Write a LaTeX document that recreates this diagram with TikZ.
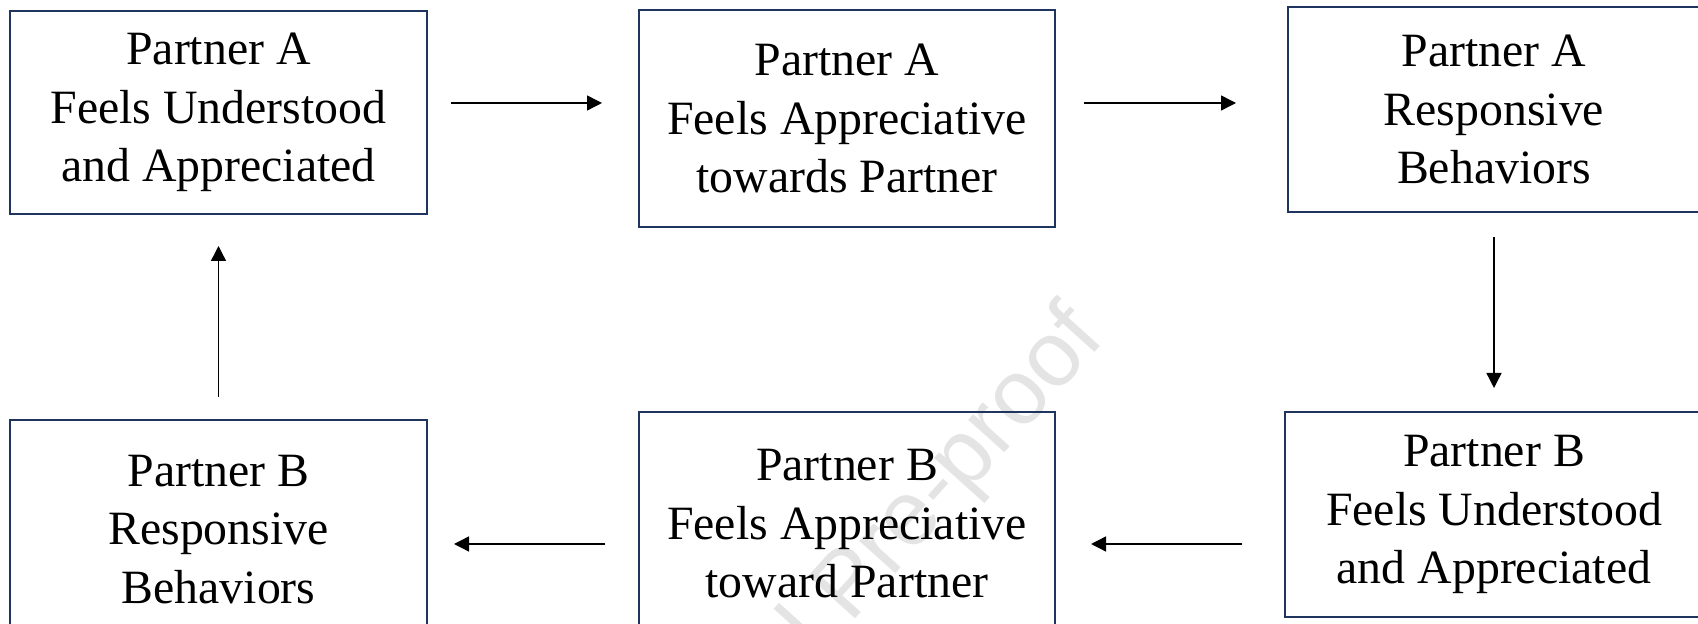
\documentclass[tikz,border=0pt]{standalone}
\usepackage{fontspec}
\setmainfont{Liberation Serif}
\newfontfamily\wmfont{Liberation Sans}
\usetikzlibrary{arrows.meta}
\definecolor{boxnavy}{HTML}{1F3560}
\definecolor{wmgray}{HTML}{E4E4E4}
\tikzset{
  stagebox/.style={draw=boxnavy, line width=1pt, align=center, inner sep=0pt,
    font=\fontsize{23.9}{29.25}\selectfont},
  flow/.style={line width=0.7pt, -{Triangle[length=7.5pt, width=7.5pt]}}
}
\begin{document}
\begin{tikzpicture}[x=0.5pt, y=-0.5pt]
  \clip (0,0) rectangle (1698,624);

  % Watermark
  \node[rotate=48, anchor=east, text=wmgray, font=\wmfont\fontsize{46}{46}\selectfont]
    (wm) at (1094,318) {Journal Pre-proof};

  % Partner A row
  \node[stagebox, minimum width=208.5pt, minimum height=101.5pt] (aund) at (218.5,112.5)
    {Partner A\\Feels Understood\\and Appreciated};
  \node[stagebox, minimum width=208pt, minimum height=108.5pt] (aapp) at (847,118.5)
    {Partner A\\Feels Appreciative\\towards Partner};
  \node[stagebox, minimum width=206pt, minimum height=102.5pt] (aresp) at (1494,109.5)
    {Partner A\\Responsive\\Behaviors};

  % Partner B row
  \node[stagebox, minimum width=209pt, minimum height=102.5pt] (bund) at (1494,514.5)
    {Partner B\\Feels Understood\\and Appreciated};
  \node[stagebox, minimum width=208pt, minimum height=112pt] (bapp) at (847,524)
    {Partner B\\Feels Appreciative\\toward Partner};
  \node[stagebox, minimum width=208.5pt, minimum height=109.5pt] (bresp) at (218.5,529.5)
    {Partner B\\Responsive\\Behaviors};

  % Cycle arrows
  \draw[flow, shorten <=11.5pt, shorten >=18pt] (aund.east |- 0,103) -- (aapp.west |- 0,103);
  \draw[flow, shorten <=14pt, shorten >=25.5pt] (aapp.east |- 0,103) -- (aresp.west |- 0,103);
  \draw[flow, shorten <=12pt, shorten >=11.5pt] (aresp.south) -- (bund.north);
  \draw[flow, shorten <=21pt, shorten >=17.5pt] (bund.west |- 0,544) -- (bapp.east |- 0,544);
  \draw[flow, shorten <=16.5pt, shorten >=13pt] (bapp.west |- 0,544) -- (bresp.east |- 0,544);
  \draw[flow, shorten <=11pt, shorten >=15.5pt] (bresp.north) -- (aund.south);
\end{tikzpicture}
\end{document}
